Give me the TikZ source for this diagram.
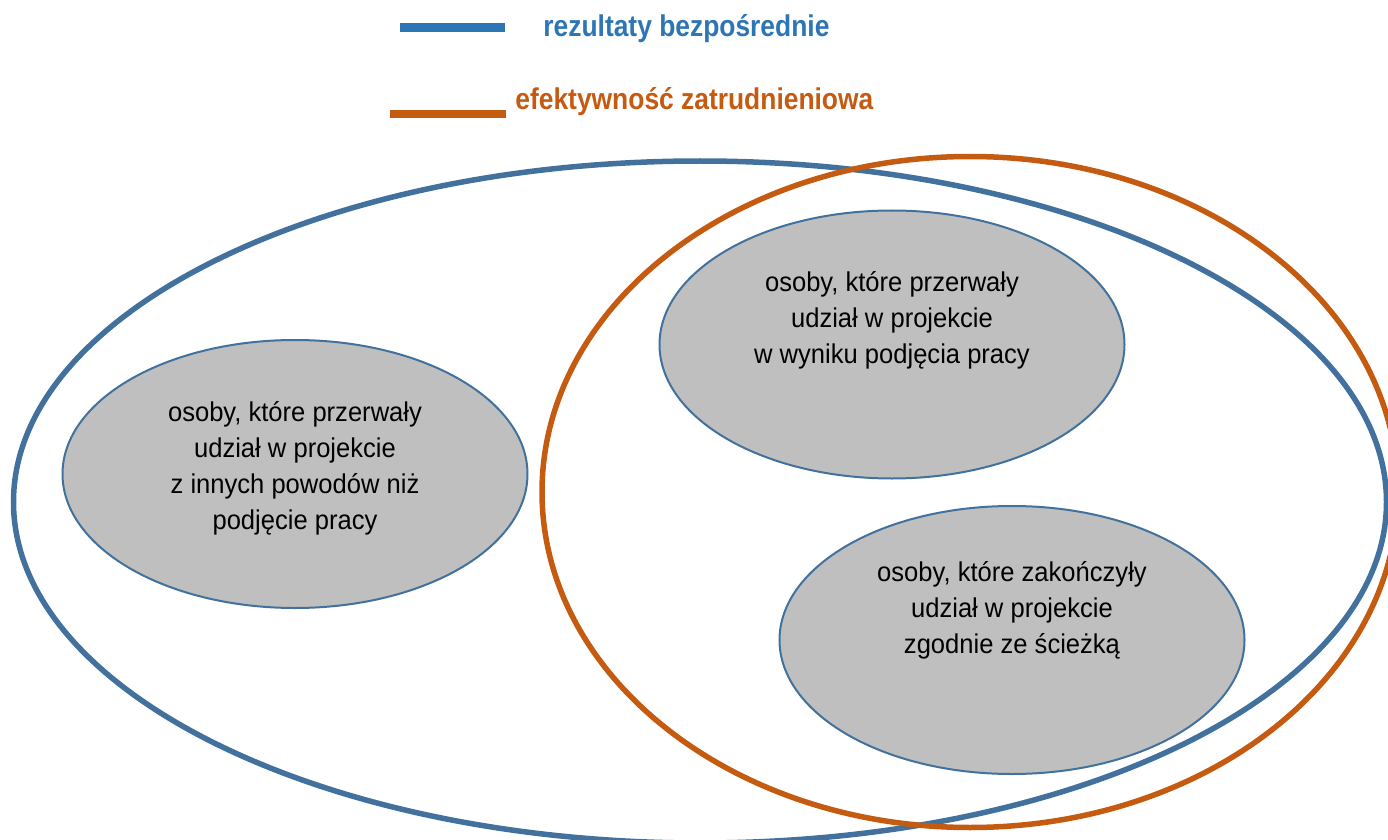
\documentclass[tikz,border=0pt]{standalone}
\usepackage{fontspec}
\setmainfont{Liberation Sans}
\newfontfamily\legendfont{Liberation Sans}[FakeStretch=0.88]
\newfontfamily\groupfont{Liberation Sans}[FakeStretch=0.94]
\usetikzlibrary{shapes.geometric}
\definecolor{setblue}{HTML}{41719C}
\definecolor{keyblue}{HTML}{2E75B6}
\definecolor{setorange}{HTML}{C55A11}
\definecolor{setgray}{HTML}{BFBFBF}
\tikzstyle{bigset} = [ellipse, inner sep=0pt, line width=2.75pt]
\tikzstyle{subset} = [ellipse, inner sep=0pt, minimum width=232.5pt, minimum height=134pt, draw=setblue, fill=setgray, line width=1pt]
\tikzstyle{grouptext} = [align=center, inner sep=0pt, font=\groupfont\fontsize{13.6pt}{18pt}\selectfont]
\tikzstyle{keyline} = [line width=4.5pt]
\tikzstyle{keytext} = [anchor=base west, inner sep=0pt, font=\legendfont\bfseries\fontsize{15pt}{18pt}\selectfont]

\begin{document}
\begin{tikzpicture}[x=0.5pt, y=-0.5pt]
    % frame
    \useasboundingbox (0,0) rectangle (1388,840);
    \clip (0,0) rectangle (1388,840);

    % legend
    \coordinate (blueStart) at (400,27.5);
    \coordinate (blueEnd) at (505,27.5);
    \coordinate (orangeStart) at (390,114);
    \coordinate (orangeEnd) at (506,114);
    \node (directLabel) [keytext, text=keyblue] at (543,37) {rezultaty bezpośrednie};
    \node (employLabel) [keytext, text=setorange] at (515,110) {efektywność zatrudnieniowa};

    % sets
    \node (direct) [bigset, draw=setblue, minimum width=686.5pt, minimum height=341pt] at (700,502) {};
    \node (employ) [bigset, draw=setorange, minimum width=428pt, minimum height=335.5pt] at (970,492) {};

    % groups
    \node (dropOther) [subset] at (295,474) {};
    \node (dropJob) [subset] at (892,344.5) {};
    \node (completed) [subset] at (1012,640) {};

    \node (dropOtherText) [grouptext] at ([yshift=3pt]dropOther.center) {osoby, które przerwały\\udział w projekcie\\z innych powodów niż\\podjęcie pracy};
    \node (dropJobText) [grouptext] at ([yshift=12.25pt]dropJob.center) {osoby, które przerwały\\udział w projekcie\\w wyniku podjęcia pracy};
    \node (completedText) [grouptext] at ([yshift=14.75pt]completed.center) {osoby, które zakończyły\\udział w projekcie\\zgodnie ze ścieżką};

    % legend lines
    \draw [keyline, draw=keyblue] (blueStart) -- (blueEnd);
    \draw [keyline, draw=setorange, line width=4pt] (orangeStart) -- (orangeEnd);
\end{tikzpicture}
\end{document}
